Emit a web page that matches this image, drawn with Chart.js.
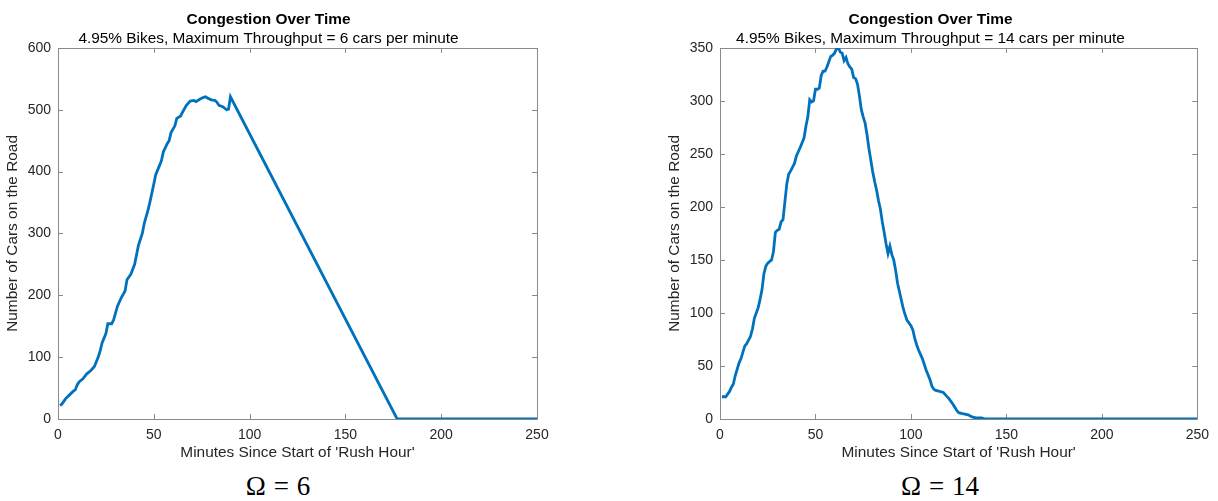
<!DOCTYPE html>
<html>
<head>
<meta charset="utf-8">
<script src="https://cdn.jsdelivr.net/npm/chart.js@4"></script>
<style>
  body { margin: 0; background: #fff; width: 1218px; height: 501px; position: relative; overflow: hidden; }
  .wrap { position: absolute; top: 0; height: 461px; }
  .cap { position: absolute; top: 473px; width: 200px; text-align: center; font-family: "Liberation Serif", "DejaVu Serif", serif; font-size: 27px; line-height: 27px; color: #000; word-spacing: 1px; }
</style>
</head>
<body>
<div class="wrap" style="left:0;width:600px"><canvas id="chart6"></canvas></div>
<div class="wrap" style="left:662px;width:556px"><canvas id="chart14"></canvas></div>
<div class="cap" style="left:178px">Ω = 6</div>
<div class="cap" style="left:840px">Ω = 14</div>
<script>
const titleText = "Congestion Over Time";
const subtitle6 = "4.95% Bikes, Maximum Throughput = 6 cars per minute";
const subtitle14 = "4.95% Bikes, Maximum Throughput = 14 cars per minute";
const xLabel = "Minutes Since Start of 'Rush Hour'";
const yLabel = "Number of Cars on the Road";

// throughput 6
const minutes6 = [1, 2, 4, 6, 8, 9, 10, 11, 13, 15, 17, 19, 21, 22, 23, 25, 26, 28, 29, 31, 33, 35, 36, 38, 40, 42, 44, 45, 47, 48, 50, 51, 53, 54, 55, 57, 58, 59, 61, 62, 64, 65, 67, 69, 71, 72, 74, 76, 77, 78, 80, 82, 83, 84, 86, 88, 89, 90, 177, 250];
const cars6 = [22, 24, 33, 39, 45, 47, 55, 60, 65, 73, 78, 85, 100, 110, 123, 138, 154, 154, 160, 182, 196, 207, 225, 234, 250, 281, 300, 316, 338, 351, 380, 395, 410, 418, 432, 445, 450, 463, 474, 486, 490, 496, 507, 514, 515, 513, 517, 520, 521, 519, 516, 515, 512, 507, 505, 500, 501, 521, 0, 0];

// throughput 14
const minutes14 = [1, 3, 5, 6, 7, 8, 10, 11, 12, 13, 14, 16, 17, 18, 19, 20, 21, 22, 23, 24, 25, 27, 28, 29, 30, 31, 32, 33, 34, 35, 36, 37, 39, 40, 42, 44, 45, 46, 47, 48, 49, 50, 51, 52, 53, 54, 55, 56, 57, 58, 59, 60, 61, 62, 63, 64, 65, 66, 67, 68, 69, 70, 71, 72, 73, 74, 75, 76, 77, 78, 79, 80, 81, 82, 83, 84, 85, 86, 87, 88, 89, 90, 91, 92, 93, 94, 95, 96, 97, 98, 100, 101, 102, 103, 104, 106, 108, 110, 111, 112, 113, 115, 117, 118, 120, 122, 124, 125, 127, 130, 132, 134, 137, 139, 250];
const cars14 = [21, 21, 26, 30, 33, 41, 53, 57, 63, 69, 71, 78, 85, 95, 100, 105, 113, 122, 137, 144, 147, 150, 158, 176, 178, 179, 186, 188, 205, 222, 231, 234, 241, 248, 256, 265, 276, 285, 301, 299, 300, 311, 311, 312, 324, 328, 328, 332, 337, 342, 343, 345, 349, 350, 346, 345, 338, 341, 335, 332, 330, 322, 321, 316, 305, 292, 285, 279, 268, 255, 244, 233, 224, 216, 206, 198, 186, 176, 165, 156, 163, 155, 150, 140, 128, 120, 112, 104, 98, 93, 88, 84, 76, 70, 65, 57, 46, 37, 31, 28, 27, 26, 25, 23, 19, 14, 8, 6, 5, 4, 2, 1, 1, 0, 0];

const xTicks = [0, 50, 100, 150, 200, 250];
const yTicks6 = [0, 100, 200, 300, 400, 500, 600];
const yTicks14 = [0, 50, 100, 150, 200, 250, 300, 350];

const font = "'Liberation Sans', Arial, sans-serif";
const textColor = '#262626';

// axes box with inward tick marks on all four sides
const boxPlugin = {
  id: 'box',
  beforeDatasetsDraw(chart) {
    const { ctx, chartArea: a, scales: { x, y } } = chart;
    ctx.save();
    ctx.strokeStyle = '#8a8a8a';
    ctx.lineWidth = 1;
    ctx.beginPath();
    ctx.rect(Math.round(a.left) + 0.5, Math.round(a.top) + 0.5, Math.round(a.width), Math.round(a.height));
    x.ticks.forEach(t => {
      const px = Math.round(x.getPixelForValue(t.value)) + 0.5;
      ctx.moveTo(px, a.bottom); ctx.lineTo(px, a.bottom - 5);
      ctx.moveTo(px, a.top); ctx.lineTo(px, a.top + 5);
    });
    y.ticks.forEach(t => {
      const py = Math.round(y.getPixelForValue(t.value)) + 0.5;
      ctx.moveTo(a.left, py); ctx.lineTo(a.left + 5, py);
      ctx.moveTo(a.right, py); ctx.lineTo(a.right - 5, py);
    });
    ctx.stroke();
    ctx.restore();
  }
};

function makeChart(id, xs, ys, sub, yTicks, padRight) {
  const pts = xs.map((m, i) => ({ x: m, y: ys[i] }));
  return new Chart(id, {
    type: 'line',
    data: {
      datasets: [{
        data: pts,
        borderColor: '#0072BD',
        borderWidth: 2.8,
        pointRadius: 0,
        tension: 0,
        fill: false
      }]
    },
    options: {
      responsive: true,
      maintainAspectRatio: false,
      animation: false,
      layout: { padding: { left: 0, right: padRight, top: 0, bottom: 0 } },
      plugins: {
        legend: { display: false },
        tooltip: { enabled: false },
        title: {
          display: true, text: titleText, color: '#000',
          font: { family: font, size: 15.4, weight: 'bold', lineHeight: 1.1 },
          padding: { top: 11, bottom: 2 }
        },
        subtitle: {
          display: true, text: sub, color: '#000',
          font: { family: font, size: 15.4, lineHeight: 1.1 },
          padding: { top: 0, bottom: 1 }
        }
      },
      scales: {
        x: {
          type: 'linear', min: xTicks[0], max: xTicks[xTicks.length - 1],
          afterBuildTicks: s => { s.ticks = xTicks.map(v => ({ value: v })); },
          afterFit: s => { s.height = 42; },
          grid: { display: false, drawTicks: false },
          border: { display: false },
          ticks: { color: textColor, font: { family: font, size: 14, lineHeight: 1 }, padding: 9, maxRotation: 0 },
          title: { display: true, text: xLabel, color: textColor, font: { family: font, size: 15.4, lineHeight: 1 }, padding: { top: 2, bottom: 1 } }
        },
        y: {
          type: 'linear', min: yTicks[0], max: yTicks[yTicks.length - 1],
          afterBuildTicks: s => { s.ticks = yTicks.map(v => ({ value: v })); },
          afterFit: s => { s.width = 58; },
          grid: { display: false, drawTicks: false },
          border: { display: false },
          ticks: { color: textColor, font: { family: font, size: 14 }, padding: 7 },
          title: { display: true, text: yLabel, color: textColor, font: { family: font, size: 15.4, lineHeight: 1 }, padding: { top: 5, bottom: 0 } }
        }
      }
    },
    plugins: [boxPlugin]
  });
}

makeChart('chart6', minutes6, cars6, subtitle6, yTicks6, 63);
makeChart('chart14', minutes14, cars14, subtitle14, yTicks14, 19);
</script>
</body>
</html>
